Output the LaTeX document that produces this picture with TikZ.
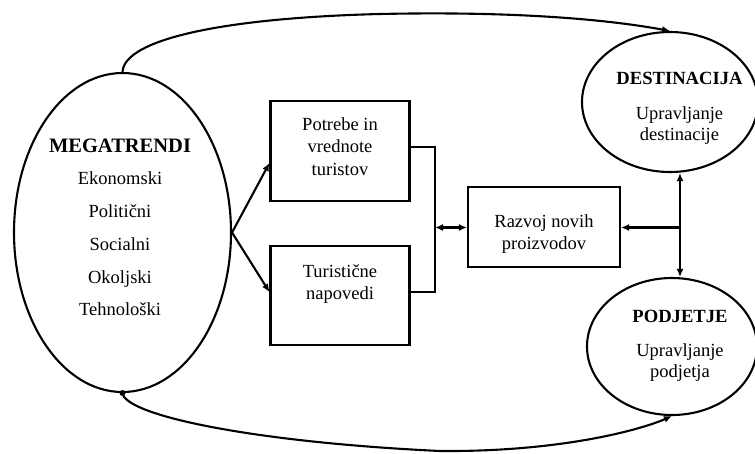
\documentclass[tikz,border=0pt]{standalone}
\usepackage{fontspec}
\setmainfont{Liberation Serif}
\usetikzlibrary{shapes.geometric,arrows.meta}
\begin{document}
\begin{tikzpicture}[x=1pt,y=-1pt,
  line width=2.1pt,
  txt/.style={anchor=base,font=\rmfamily\fontsize{18.5}{22}\selectfont,inner sep=0pt},
  ttl/.style={anchor=base,font=\rmfamily\fontsize{18.6}{22}\selectfont\bfseries,inner sep=0pt},
  oval/.style={draw,ellipse,inner sep=0pt},
  boxx/.style={draw,rectangle,inner sep=0pt},
  arr/.style={-{Latex[length=8pt,width=7pt]}},
  arrb/.style={{Latex[length=8pt,width=7pt]}-{Latex[length=8pt,width=7pt]}},
]
\useasboundingbox (0,0) rectangle (755,453);

% shapes
\node[oval,minimum width=217pt,minimum height=319pt] (m) at (122.5,232.5) {};
\node[boxx,minimum width=139pt,minimum height=100pt] (b1) at (340,151) {};
\node[boxx,minimum width=139pt,minimum height=99pt] (b2) at (340,295.5) {};
\node[boxx,minimum width=152pt,minimum height=80pt] (b3) at (544,227) {};
\node[oval,minimum width=176pt,minimum height=140pt] (d) at (670,102) {};
\node[oval,minimum width=170pt,minimum height=137pt] (p) at (672,346.5) {};

% texts
\node[ttl,font=\rmfamily\fontsize{20.5}{22}\selectfont\bfseries] (mt) at (120,152) {MEGATRENDI};
\node[txt] (m1) at (120,184) {Ekonomski};
\node[txt] (m2) at (120,217) {Politični};
\node[txt] (m3) at (120,250) {Socialni};
\node[txt] (m4) at (120,283) {Okoljski};
\node[txt] (m5) at (120,315) {Tehnološki};

\node[txt] (t11) at (340,130) {Potrebe in};
\node[txt] (t12) at (340,152.5) {vrednote};
\node[txt] (t13) at (340,175) {turistov};

\node[txt] (t21) at (340,277) {Turistične};
\node[txt] (t22) at (340,299) {napovedi};

\node[txt] (t31) at (544,227) {Razvoj novih};
\node[txt] (t32) at (544,249) {proizvodov};

\node[ttl] (dt) at (679.5,84) {DESTINACIJA};
\node[txt] (d1) at (679.5,119.5) {Upravljanje};
\node[txt] (d2) at (679.5,140) {destinacije};

\node[ttl] (pt) at (680,322) {PODJETJE};
\node[txt] (p1) at (680,356) {Upravljanje};
\node[txt] (p2) at (680,377) {podjetja};

% connectors
\draw[arr] (m.east) -- ([yshift=-12pt]b1.west);
\draw[arr] (m.east) -- ([yshift=3.5pt]b2.west);

\coordinate (br) at (435,227.5);
\draw ([yshift=4pt]b1.east) -- ([yshift=4pt]b1.east -| br) -- ([yshift=3.5pt]b2.east -| br) -- ([yshift=3.5pt]b2.east);
\draw[arrb] (br) -- (br -| b3.west);

\coordinate (rj) at (680,227.5);
\draw[arr] (rj) -- (rj -| b3.east);
\draw[arrb] (rj |- d.south) -- (rj |- p.north);

\draw[arr] (m.north) .. controls (124,40) and (220,18) .. (380,14)
  .. controls (520,11) and (610,20) .. (d.north);
\fill (m.south) circle (3pt);
\draw[arr] (m.south) .. controls (125,415) and (250,442) .. (440,451)
  .. controls (560,452) and (640,430) .. (p.south);
\end{tikzpicture}
\end{document}
